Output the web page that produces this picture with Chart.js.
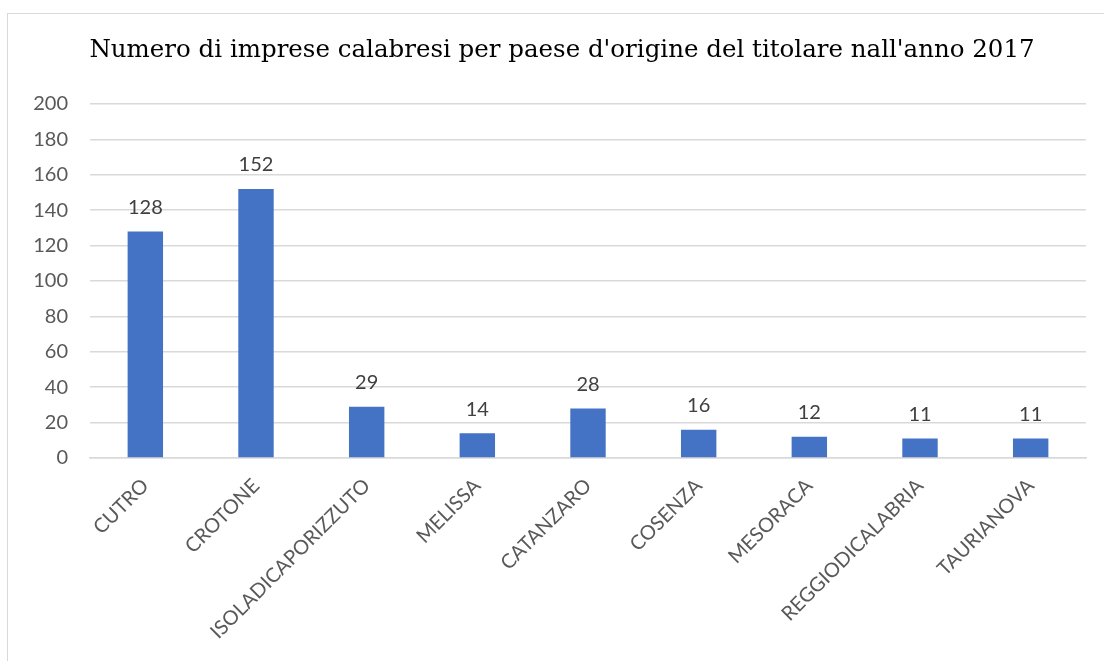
<!DOCTYPE html>
<html>
<head>
<meta charset="utf-8">
<script src="https://cdn.jsdelivr.net/npm/chart.js@4/dist/chart.umd.min.js"></script>
<style>
  html, body { margin: 0; padding: 0; background: #fff; }
  #frame { position: absolute; left: 7px; top: 13px; width: 1120px; height: 680px; border: 1px solid #d9d9d9; box-sizing: border-box; }
  #wrap { position: absolute; left: 0; top: 0; width: 1104px; height: 661px; }
</style>
</head>
<body>
<div id="frame"></div>
<div id="wrap"><canvas id="chart" width="1104" height="661"></canvas></div>
<script>
// data
const categories = ['CUTRO', 'CROTONE', 'ISOLADICAPORIZZUTO', 'MELISSA', 'CATANZARO', 'COSENZA', 'MESORACA', 'REGGIODICALABRIA', 'TAURIANOVA'];
const imprese = [128, 152, 29, 14, 28, 16, 12, 11, 11];
const yTicks = [0, 20, 40, 60, 80, 100, 120, 140, 160, 180, 200];

const titleText = "Numero di imprese calabresi per paese d'origine del titolare nall'anno 2017";

// title drawn by hand so it can sit centred on the whole frame
const chartTitle = {
    id: 'chartTitle',
    afterDraw(chart) {
        const ctx = chart.ctx;
        ctx.save();
        ctx.font = '24.5px "DejaVu Serif"';
        ctx.fillStyle = '#000000';
        ctx.textAlign = 'center';
        ctx.textBaseline = 'middle';
        ctx.fillText(titleText, 562, 51);
        ctx.restore();
    }
};

// simple value labels above the bars
const valueLabels = {
    id: 'valueLabels',
    afterDatasetsDraw(chart) {
        const ctx = chart.ctx;
        const meta = chart.getDatasetMeta(0);
        ctx.save();
        ctx.font = '20px Lato';
        ctx.fillStyle = '#404040';
        ctx.textAlign = 'center';
        ctx.textBaseline = 'bottom';
        meta.data.forEach((bar, i) => {
            ctx.fillText(String(imprese[i]), bar.x, bar.y - 14);
        });
        ctx.restore();
    }
};

new Chart(document.getElementById('chart'), {
    type: 'bar',
    data: {
        labels: categories,
        datasets: [{
            data: imprese,
            backgroundColor: '#4472c4',
            categoryPercentage: 1,
            barPercentage: 0.32
        }]
    },
    options: {
        responsive: false,
        animation: false,
        layout: { padding: { left: 0, right: 18, top: 104, bottom: 0 } },
        plugins: {
            legend: { display: false },
            tooltip: { enabled: false },
            title: { display: false }
        },
        scales: {
            x: {
                grid: { display: false, drawTicks: false },
                border: { display: true, color: '#d9d9d9', width: 1.5 },
                ticks: {
                    color: '#595959',
                    font: { family: 'Lato', size: 20 },
                    maxRotation: 45,
                    minRotation: 45,
                    padding: 16,
                    autoSkip: false
                },
                afterFit(scale) { scale.height = 203; }
            },
            y: {
                min: 0,
                max: 200,
                afterBuildTicks(scale) { scale.ticks = yTicks.map(v => ({ value: v })); },
                grid: { color: '#d9d9d9', lineWidth: 1.5, drawTicks: false },
                border: { display: false },
                ticks: {
                    color: '#595959',
                    font: { family: 'Lato', size: 20 },
                    padding: 22
                },
                afterFit(scale) { scale.width = 90; }
            }
        }
    },
    plugins: [valueLabels, chartTitle]
});
</script>
</body>
</html>
